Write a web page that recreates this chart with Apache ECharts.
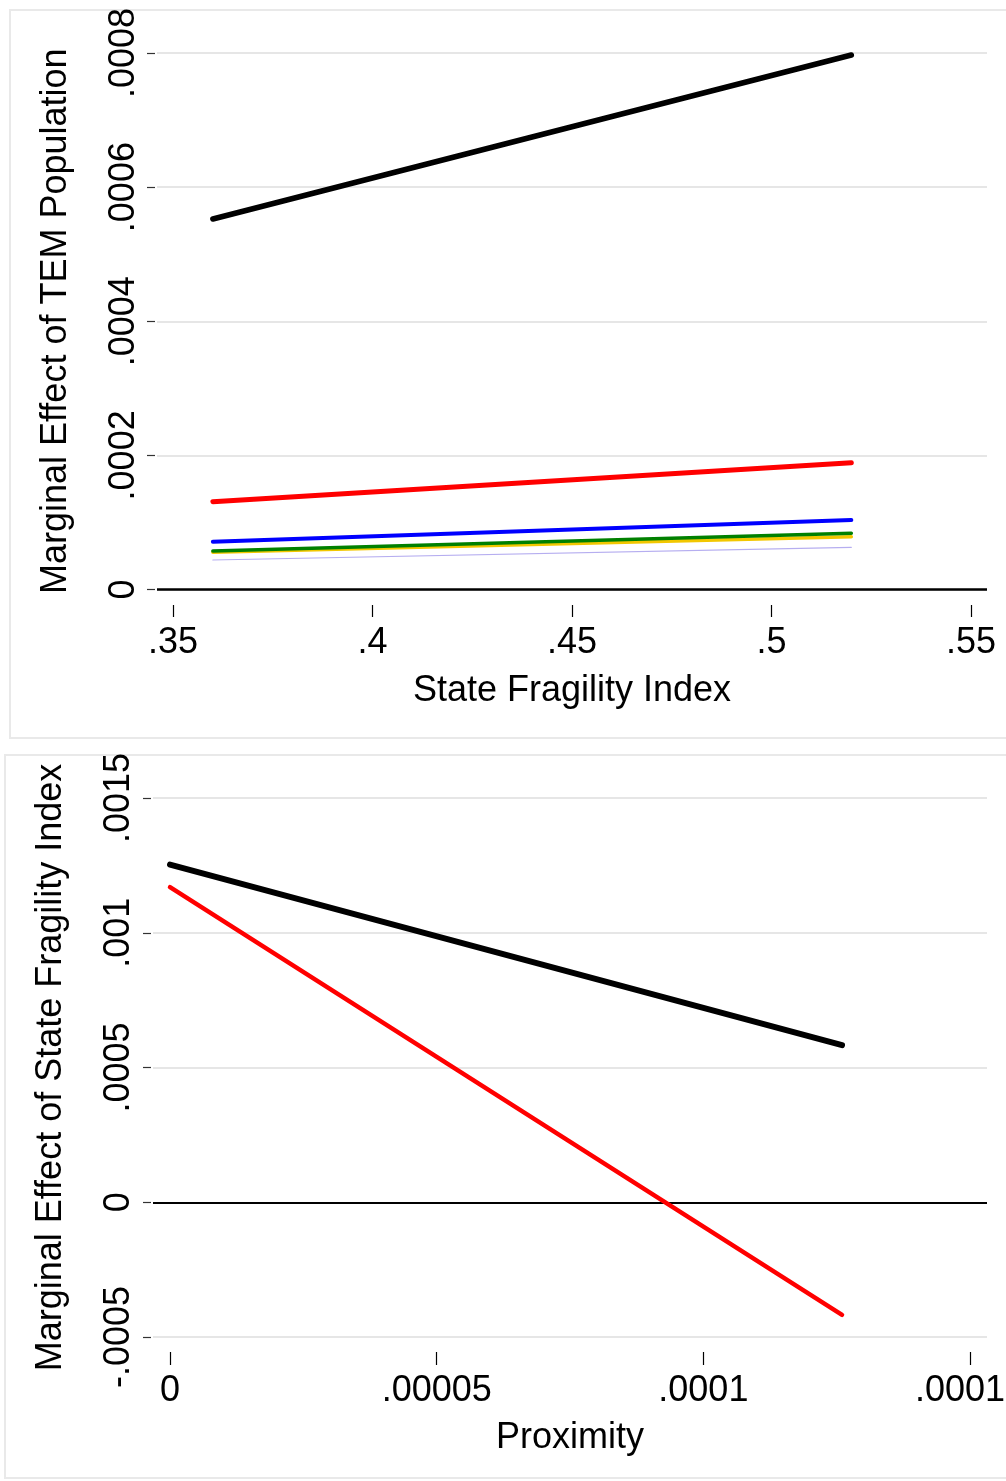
<!DOCTYPE html>
<html>
<head>
<meta charset="utf-8">
<script src="https://cdn.jsdelivr.net/npm/echarts@6/dist/echarts.min.js"></script>
<style>
  html, body { margin: 0; padding: 0; background: #fff; }
  #chart { width: 1006px; height: 1481px; }
</style>
</head>
<body>
<div id="chart"></div>
<script>
// Panel 1: marginal effect of TEM population across the State Fragility Index
const fragX = [0.36, 0.52];
const temBlack = [0.0005525, 0.000797];
const temRed = [0.0001309, 0.0001891];
const temBlue = [0.0000713, 0.0001036];
const temGreen = [0.0000574, 0.0000838];
const temYellow = [0.0000555, 0.0000787];
const temLavender = [0.000044, 0.0000629];

const fragTicks = [0.35, 0.4, 0.45, 0.5, 0.55];
const fragTickLabels = ['.35', '.4', '.45', '.5', '.55'];
const temTicks = [0, 0.0002, 0.0004, 0.0006, 0.0008];
const temTickLabels = ['0', '.0002', '.0004', '.0006', '.0008'];

// Panel 2: marginal effect of the State Fragility Index across proximity
const proxX = [0, 0.000126];
const sfiBlack = [0.0012528, 0.0005828];
const sfiRed = [0.0011693, -0.0004176];

const proxTicks = [0, 0.00005, 0.0001, 0.00015];
const proxTickLabels = ['0', '.00005', '.0001', '.00015'];
const sfiTicks = [-0.0005, 0, 0.0005, 0.001, 0.0015];
const sfiTickLabels = ['-.0005', '0', '.0005', '.001', '.0015'];

const FONT = 'Liberation Sans, Arial, sans-serif';
const FS = 36;

function labelFor(ticks, labels) {
  return function (v) {
    let best = 0;
    for (let i = 1; i < ticks.length; i++) {
      if (Math.abs(ticks[i] - v) < Math.abs(ticks[best] - v)) best = i;
    }
    return labels[best];
  };
}

function pairs(xs, ys) {
  return xs.map((x, i) => [x, ys[i]]);
}

function lineSeries(name, xIdx, xs, ys, color, width, z) {
  return {
    name: name,
    type: 'line',
    xAxisIndex: xIdx,
    yAxisIndex: xIdx,
    data: pairs(xs, ys),
    showSymbol: false,
    symbol: 'none',
    z: z,
    lineStyle: { color: color, width: width, cap: 'round', join: 'round' },
    silent: true,
    animation: false
  };
}

function zeroLine(xIdx, width) {
  return {
    type: 'line',
    xAxisIndex: xIdx,
    yAxisIndex: xIdx,
    data: [],
    z: 1,
    silent: true,
    animation: false,
    markLine: {
      silent: true,
      symbol: ['none', 'none'],
      label: { show: false },
      lineStyle: { color: '#000', width: width, type: 'solid' },
      data: [{ yAxis: 0 }],
      animation: false
    }
  };
}

const textStyle = { fontFamily: FONT, fontSize: FS, color: '#000' };

const chart = echarts.init(document.getElementById('chart'), null, { renderer: 'canvas' });

chart.setOption({
  backgroundColor: '#fff',
  animation: false,
  graphic: [
    {
      type: 'rect', silent: true, z: 0,
      shape: { x: 10, y: 10, width: 1010, height: 728 },
      style: { fill: 'none', stroke: '#e9e9e9', lineWidth: 2 }
    },
    {
      type: 'rect', silent: true, z: 0,
      shape: { x: 5, y: 755, width: 1015, height: 723 },
      style: { fill: 'none', stroke: '#e9e9e9', lineWidth: 2 }
    }
  ],
  grid: [
    { left: 157, right: 19, top: 53, height: 536.5, outerBoundsMode: 'none', containLabel: false },
    { left: 153, right: 19, top: 798, height: 539, outerBoundsMode: 'none', containLabel: false }
  ],
  xAxis: [
    {
      gridIndex: 0,
      type: 'value',
      min: 0.346,
      max: 0.554,
      position: 'bottom',
      offset: 15.5,
      name: 'State Fragility Index',
      nameLocation: 'middle',
      nameGap: 68,
      nameTextStyle: textStyle,
      axisLine: { show: false, onZero: false },
      axisTick: { show: true, length: 12, customValues: fragTicks, lineStyle: { color: '#000', width: 1.2 } },
      axisLabel: {
        customValues: fragTicks,
        formatter: labelFor(fragTicks, fragTickLabels),
        margin: 20,
        fontFamily: FONT, fontSize: FS, color: '#000'
      },
      splitLine: { show: false }
    },
    {
      gridIndex: 1,
      type: 'value',
      min: -0.00000319,
      max: 0.00015318,
      position: 'bottom',
      offset: 15,
      name: 'Proximity',
      nameLocation: 'middle',
      nameGap: 68,
      nameTextStyle: textStyle,
      axisLine: { show: false, onZero: false },
      axisTick: { show: true, length: 13, customValues: proxTicks, lineStyle: { color: '#000', width: 1.2 } },
      axisLabel: {
        customValues: proxTicks,
        formatter: labelFor(proxTicks, proxTickLabels),
        margin: 21,
        fontFamily: FONT, fontSize: FS, color: '#000'
      },
      splitLine: { show: false }
    }
  ],
  yAxis: [
    {
      gridIndex: 0,
      type: 'value',
      min: 0,
      max: 0.0008,
      interval: 0.0002,
      offset: 2,
      name: 'Marginal Effect of TEM Population',
      nameLocation: 'middle',
      nameRotate: 90,
      nameGap: 81,
      nameTextStyle: textStyle,
      axisLine: { show: false, onZero: false },
      axisTick: { show: true, length: 8, lineStyle: { color: '#333', width: 1.2 } },
      axisLabel: {
        rotate: 90,
        formatter: labelFor(temTicks, temTickLabels),
        margin: 13,
        fontFamily: FONT, fontSize: FS, color: '#000'
      },
      splitLine: { show: true, lineStyle: { color: '#e6e6e6', width: 2 } }
    },
    {
      gridIndex: 1,
      type: 'value',
      min: -0.0005,
      max: 0.0015,
      interval: 0.0005,
      offset: 2,
      name: 'Marginal Effect of State Fragility Index',
      nameLocation: 'middle',
      nameRotate: 90,
      nameGap: 82,
      nameTextStyle: textStyle,
      axisLine: { show: false, onZero: false },
      axisTick: { show: true, length: 8, lineStyle: { color: '#333', width: 1.2 } },
      axisLabel: {
        rotate: 90,
        formatter: labelFor(sfiTicks, sfiTickLabels),
        margin: 14,
        fontFamily: FONT, fontSize: FS, color: '#000'
      },
      splitLine: { show: true, lineStyle: { color: '#e6e6e6', width: 2 } }
    }
  ],
  series: [
    zeroLine(0, 2.5),
    lineSeries('Lavender', 0, fragX, temLavender, '#b6aef0', 1.2, 3),
    lineSeries('Yellow', 0, fragX, temYellow, '#f2c700', 3.5, 4),
    lineSeries('Green', 0, fragX, temGreen, '#008000', 3.5, 5),
    lineSeries('Blue', 0, fragX, temBlue, '#0000ff', 4, 6),
    lineSeries('Red', 0, fragX, temRed, '#ff0000', 5, 7),
    lineSeries('Black', 0, fragX, temBlack, '#000000', 5.5, 8),
    zeroLine(1, 2),
    lineSeries('Red', 1, proxX, sfiRed, '#ff0000', 4.5, 7),
    lineSeries('Black', 1, proxX, sfiBlack, '#000000', 6, 8)
  ]
});
</script>
</body>
</html>
